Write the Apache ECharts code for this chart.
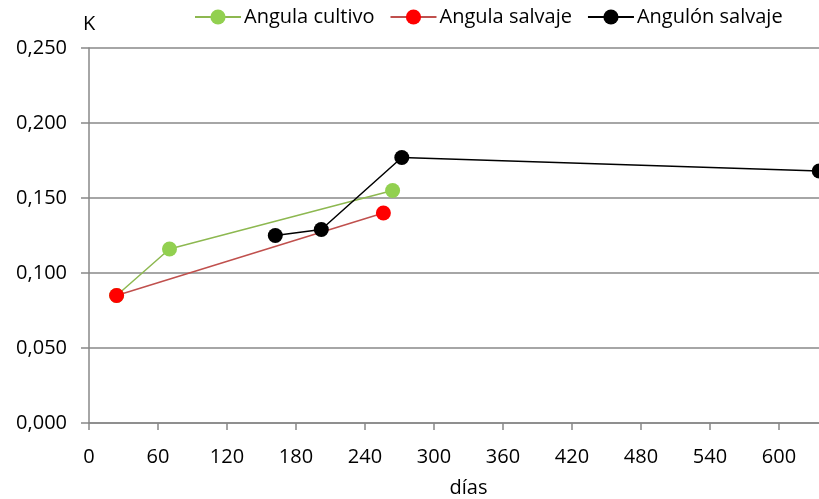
<!DOCTYPE html>
<html><head><meta charset="utf-8">
<script src="https://cdn.jsdelivr.net/npm/echarts@6/dist/echarts.min.js"></script>
<style>html,body{margin:0;padding:0;background:#fff;overflow:hidden;width:819px;height:499px}#c{width:848px;height:499px}</style>
</head><body><div id="c"></div>
<script>
const seriesNames = ['Angula cultivo', 'Angula salvaje', 'Angulón salvaje'];
const cultivoX = [24, 70, 264];
const cultivoY = [0.085, 0.116, 0.155];
const salvajeX = [24, 256];
const salvajeY = [0.085, 0.140];
const angulonX = [162, 202, 272, 635];
const angulonY = [0.125, 0.129, 0.177, 0.168];
const xTicks = [0, 60, 120, 180, 240, 300, 360, 420, 480, 540, 600];
const yTicks = [0, 0.05, 0.10, 0.15, 0.20, 0.25];

const FONT = '"Open Sans","Liberation Sans",sans-serif';
const pairs = (xs, ys) => xs.map((x, i) => [x, ys[i]]);
const chart = echarts.init(document.getElementById('c'), null, {renderer: 'canvas'});
function mk(name, xs, ys, lineColor, dotColor) {
  return {
    name, type: 'line', data: pairs(xs, ys),
    symbol: 'circle', symbolSize: 15,
    lineStyle: {color: lineColor, width: 1.5},
    itemStyle: {color: dotColor},
    animation: false
  };
}
chart.setOption({
  animation: false,
  textStyle: {fontFamily: FONT},
  legend: {
    top: 2, left: 189, itemGap: 15, itemWidth: 46, itemHeight: 19,
    textStyle: {fontSize: 20, color: '#000', fontFamily: FONT, padding: [0, 0, 0, -2]},
    data: seriesNames
  },
  grid: {left: 89, top: 48, right: 0, bottom: 76, containLabel: false, outerBoundsMode: 'none'},
  xAxis: {
    type: 'value', min: 0, max: 660, interval: 60,
    name: 'días', nameLocation: 'middle', nameGap: 55,
    nameTextStyle: {fontSize: 20, color: '#000', fontFamily: FONT},
    axisLine: {show: true, lineStyle: {color: '#888', width: 1.5}},
    axisTick: {show: true, length: 7, lineStyle: {color: '#888', width: 1.5}},
    axisLabel: {fontSize: 20, color: '#000', margin: 24, fontFamily: FONT,
      formatter: v => xTicks.includes(v) ? String(v) : ''},
    splitLine: {show: false}
  },
  yAxis: {
    type: 'value', min: 0, max: 0.25, interval: 0.05,
    name: 'K', nameLocation: 'end', nameGap: 14,
    nameTextStyle: {fontSize: 20, color: '#000', fontFamily: FONT, align: 'left', padding: [0, 0, 0, -6]},
    axisLine: {show: true, lineStyle: {color: '#888', width: 1.5}},
    axisTick: {show: true, length: 8, inside: false, lineStyle: {color: '#888', width: 1.5}},
    axisLabel: {fontSize: 20, color: '#000', margin: 22, fontFamily: FONT,
      formatter: v => yTicks.some(t => Math.abs(t - v) < 1e-9) ? v.toFixed(3).replace('.', ',') : ''},
    splitLine: {show: true, lineStyle: {color: '#888', width: 1.5}}
  },
  series: [
    mk(seriesNames[0], cultivoX, cultivoY, '#8DB850', '#92D050'),
    mk(seriesNames[1], salvajeX, salvajeY, '#C0504D', '#FF0000'),
    mk(seriesNames[2], angulonX, angulonY, '#000000', '#000000')
  ]
});
</script></body></html>
